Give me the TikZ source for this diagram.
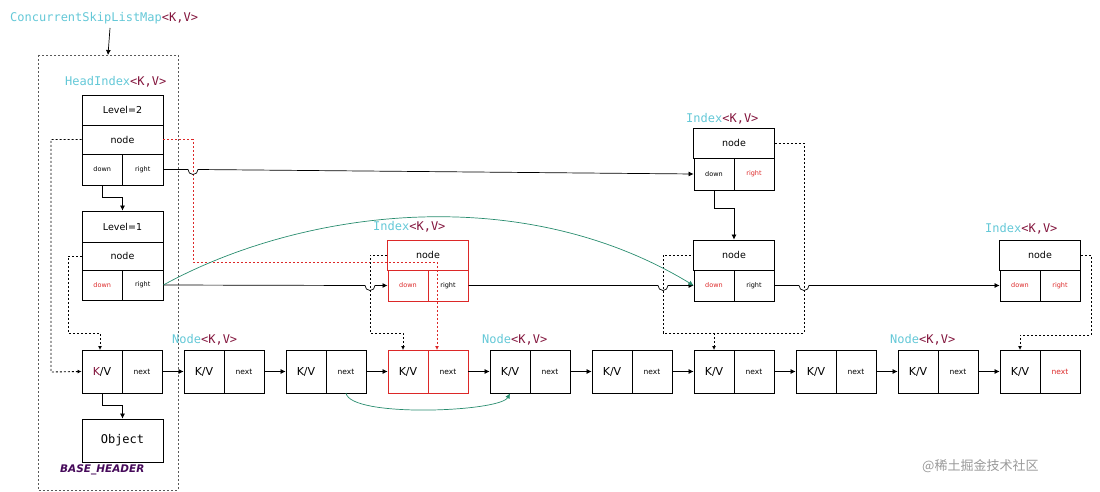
\documentclass[tikz,border=0pt]{standalone}
\usepackage{fontspec}
\setmainfont{DejaVu Sans}
\newfontfamily\monof{DejaVu Sans Mono}
\newfontfamily\cjk{Noto Sans CJK SC}
\usetikzlibrary{arrows.meta}
\definecolor{cy}{RGB}{100,200,215}
\definecolor{dr}{RGB}{130,20,60}
\definecolor{rd}{RGB}{220,40,40}
\definecolor{gr}{RGB}{40,140,110}
\definecolor{pu}{RGB}{70,10,90}
\begin{document}
\begin{tikzpicture}[x=1pt,y=-1pt,
 cell/.style={draw,line width=0.8pt,minimum width=40pt,inner sep=0pt,font=\fontsize{9}{9}\selectfont},
 wcell/.style={draw,line width=0.8pt,minimum width=81pt,inner sep=0pt,font=\fontsize{9.5}{9.5}\selectfont},
 sm/.style={font=\fontsize{6.5}{6.5}\selectfont},
 lab/.style={anchor=west,inner sep=0pt,font=\monof\fontsize{12}{12}\selectfont},
 arr/.style={-{Latex[length=5pt,width=5pt]},line width=0.7pt},
 dsh/.style={dashed,dash pattern=on 2pt off 2pt,line width=0.9pt}]
\useasboundingbox (0,0) rectangle (1100,492);
% title
\node[lab] (title) at (10,18) {\textcolor{cy}{ConcurrentSkipListMap}\textcolor{dr}{<K,V>}};
\draw[dsh,line width=0.6pt,gray!70!black] (38,55) rectangle (178,490);
\coordinate (bt) at (108,55);
\draw[arr] (110,28) -- (bt);
\node[lab] (hl) at (65,82) {\textcolor{cy}{HeadIndex}\textcolor{dr}{<K,V>}};
% head level 2
\node[wcell,minimum height=30pt] (h2l) at (122.5,110) {Level=2};
\node[wcell,minimum height=29pt] (h2n) at (122.5,139.5) {node};
\node[cell,minimum width=40.5pt,minimum height=31pt,sm] (h2d) at (102.25,169.5) {down};
\node[cell,minimum width=40.5pt,minimum height=31pt,sm] (h2r) at (142.75,169.5) {right};
% head level 1
\node[wcell,minimum height=31pt] (h1l) at (122.5,226.5) {Level=1};
\node[wcell,minimum height=28pt] (h1n) at (122.5,256) {node};
\node[cell,minimum width=40.5pt,minimum height=30pt,sm,text=rd] (h1d) at (102.25,285) {down};
\node[cell,minimum width=40.5pt,minimum height=30pt,sm] (h1r) at (142.75,285) {right};
% bottom nodes
\foreach \i/\x in {0/82,1/184,2/286,3/388,4/490,5/592,6/694,7/796,8/898,9/1000}{
  \node[cell,minimum height=43pt] (k\i) at (\x+20,371.5) {};
  \node[cell,minimum height=43pt,font=\fontsize{7.5}{7.5}\selectfont] (n\i) at (\x+60,371.5) {next};
}
\foreach \i in {1,2,3,4,5,6,7,8,9}{\node[font=\fontsize{11}{11}\selectfont] at (k\i) {K/V};}
\node[font=\fontsize{11}{11}\selectfont] at (k0) {\textcolor{dr}{K}/V};
\draw[rd,line width=1pt] (388,350) rectangle (468,393) (428,350) -- (428,393);
\node[fill=white,inner sep=0.5pt,font=\fontsize{7.5}{7.5}\selectfont,text=rd] at (n9) {next};
\node[cell,minimum width=81pt,minimum height=43pt,font=\monof\fontsize{12}{12}\selectfont] (obj) at (122.5,440.5) {Object};
\node[anchor=west,inner sep=0pt,text=pu,font=\bfseries\itshape\fontsize{10.5}{10.5}\selectfont] (bh) at (60,470) {BASE\_HEADER};
% labels
\node[lab] (nl1) at (172,340) {\textcolor{cy}{Node}\textcolor{dr}{<K,V>}};
\node[lab] (nl2) at (482,340) {\textcolor{cy}{Node}\textcolor{dr}{<K,V>}};
\node[lab] (nl3) at (890,340) {\textcolor{cy}{Node}\textcolor{dr}{<K,V>}};
\node[lab] (il1) at (373,227) {\textcolor{cy}{Index}\textcolor{dr}{<K,V>}};
\node[lab] (il2) at (686,119) {\textcolor{cy}{Index}\textcolor{dr}{<K,V>}};
\node[lab] (il3) at (985,229) {\textcolor{cy}{Index}\textcolor{dr}{<K,V>}};
% red index
\node[wcell,minimum height=30pt,draw=rd,line width=1pt] (rn) at (428,255) {node};
\node[cell,minimum height=31pt,sm,text=rd,draw=rd,line width=1pt] (rdn) at (408,285.5) {down};
\node[cell,minimum height=31pt,sm,draw=rd,line width=1pt] (rr) at (448,285.5) {right};
% index top
\node[wcell,minimum height=30pt] (tn) at (734,143) {node};
\node[cell,minimum height=32pt,sm] (td) at (714,174) {down};
\node[cell,minimum height=32pt,sm,text=rd] (tr) at (754,174) {right};
% index mid
\node[wcell,minimum height=30pt] (mn) at (734,255) {node};
\node[cell,minimum height=31pt,sm,text=rd] (md) at (714,285.5) {down};
\node[cell,minimum height=31pt,sm] (mr) at (754,285.5) {right};
% index right
\node[wcell,minimum height=30pt] (qn) at (1040,255) {node};
\node[cell,minimum height=31pt,sm,text=rd] (qd) at (1020,285.5) {down};
\node[cell,minimum height=31pt,sm,text=rd] (qr) at (1060,285.5) {right};
% watermark
\node[anchor=west,inner sep=0pt,text=gray!80,font=\cjk\fontsize{13}{13}\selectfont] (wm) at (922,466) {@稀土掘金技术社区};
% connectors
\draw[arr] (h2d.south) -- ++(0,12) -| (h1l.north);
\draw[arr] (k0.south) -- ++(0,12) -| (obj.north);
\foreach \a/\b in {0/1,1/2,2/3,3/4,4/5,5/6,6/7,7/8,8/9}{\draw[arr] (n\a.east) -- (k\b.west);}
% dashed
\draw[dsh,-{Latex[length=4pt,width=4pt]}] (h2n.west) -- (51,139.5) -- (51,372) -- (k0.west);
\draw[dsh,-{Latex[length=4pt,width=4pt]}] (h1n.west) -- (68,256) -- (68,333) -| (100,350);
\draw[dsh,rd,-{Latex[length=4pt,width=4pt]}] (h2n.east) -- (193,139.5) -- (193,262) -- (437,262) -- (437,350);
\draw[dsh,-{Latex[length=4pt,width=4pt]}] (rn.west) -- (370,255) -- (370,333) -| (403,350);
\draw[dsh] (tn.east) -- (804,143) -- (804,333) -- (663,333) -- (663,255) -- (mn.west);
\draw[dsh,-{Latex[length=4pt,width=4pt]}] (714,333) -- (714,350);
\draw[dsh,-{Latex[length=4pt,width=4pt]}] (qn.east) -- (1091,255) -- (1091,335) -| (1020,350);
\draw[arr] (td.south) -- ++(0,18) -| (mn.north);
% horizontal pointers with hops
\draw[arr] (h2r.east) -- (188,169.5) arc[start angle=180,end angle=0,radius=5] -- (td.west);
\draw[arr] (h1r.east) -- (365,285.5) arc[start angle=180,end angle=0,radius=5] -- (rdn.west);
\draw[arr] (rr.east) -- (658,285.5) arc[start angle=180,end angle=0,radius=5] -- (md.west);
\draw[arr] (mr.east) -- (799,285.5) arc[start angle=180,end angle=0,radius=5] -- (qd.west);
% green curves
\draw[gr,line width=0.7pt,-{Latex[length=5pt,width=5pt]}] (h1r.east) .. controls (300,210) and (520,180) .. (md.west);
\draw[gr,line width=0.7pt,-{Latex[length=5pt,width=5pt]}] (346,393) .. controls (350,418) and (500,412) .. (k4.south);
\end{tikzpicture}
\end{document}
